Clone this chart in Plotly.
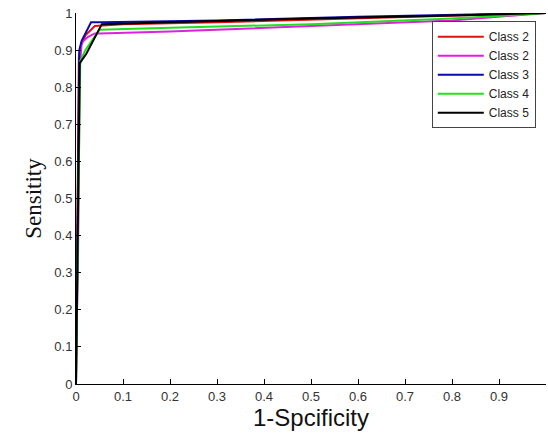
import plotly.graph_objects as go

names = ["Class 2", "Class 2", "Class 3", "Class 4", "Class 5"]
colors = ["#e01010", "#e020e0", "#0a0aa8", "#20e020", "#000000"]

red_x = [0, 0.003, 0.006, 0.01, 0.02, 0.04, 0.1, 0.3, 0.6, 1.0]
red_y = [0, 0.5, 0.88, 0.91, 0.94, 0.965, 0.97, 0.975, 0.985, 1.0]

mag_x = [0, 0.004, 0.008, 0.012, 0.025, 0.04, 0.05, 0.2, 0.5, 0.8, 1.0]
mag_y = [0.07, 0.3, 0.85, 0.92, 0.935, 0.945, 0.945, 0.95, 0.965, 0.98, 1.0]

blue_x = [0, 0.004, 0.007, 0.012, 0.032, 0.055, 0.3, 0.6, 1.0]
blue_y = [0, 0.5, 0.9, 0.925, 0.975, 0.975, 0.98, 0.99, 1.0]

green_x = [0, 0.005, 0.009, 0.02, 0.05, 0.2, 0.5, 0.8, 1.0]
green_y = [0, 0.5, 0.87, 0.9, 0.955, 0.96, 0.97, 0.985, 1.0]

black_x = [0, 0.005, 0.008, 0.022, 0.055, 0.2, 0.5, 0.8, 1.0]
black_y = [0, 0.6, 0.865, 0.89, 0.97, 0.975, 0.985, 0.993, 1.0]

xs = [red_x, mag_x, blue_x, green_x, black_x]
ys = [red_y, mag_y, blue_y, green_y, black_y]

x_ticks = [0, 0.1, 0.2, 0.3, 0.4, 0.5, 0.6, 0.7, 0.8, 0.9]
x_labels = ["0", "0.1", "0.2", "0.3", "0.4", "0.5", "0.6", "0.7", "0.8", "0.9"]
y_ticks = [0, 0.1, 0.2, 0.3, 0.4, 0.5, 0.6, 0.7, 0.8, 0.9, 1.0]
y_labels = ["0", "0.1", "0.2", "0.3", "0.4", "0.5", "0.6", "0.7", "0.8", "0.9", "1"]

fig = go.Figure()
for n, c, x, y in zip(names, colors, xs, ys):
    fig.add_trace(go.Scatter(x=x, y=y, mode="lines", name=n,
                             line=dict(color=c, width=2)))

fig.update_layout(
    width=548, height=434,
    margin=dict(l=76, r=2, t=13, b=50),
    paper_bgcolor="white", plot_bgcolor="white",
    font=dict(family="Liberation Sans, Arial", size=13, color="#333333"),
    legend=dict(x=0.757, y=0.978, xanchor="left", yanchor="top",
                bgcolor="white", bordercolor="#444444", borderwidth=1,
                font=dict(size=12, color="#222222"),
                tracegroupgap=0, itemwidth=46),
    xaxis=dict(range=[0, 1], tickvals=x_ticks, ticktext=x_labels,
               showgrid=False, zeroline=False, showline=True, linecolor="black",
               linewidth=1, ticks="inside", ticklen=5, tickcolor="black",
               automargin=False,
               title=dict(text="1-Spcificity", standoff=3,
                          font=dict(family="Liberation Sans, Arial", size=24, color="#111111"))),
    yaxis=dict(range=[0, 1], tickvals=y_ticks, ticktext=y_labels,
               showgrid=False, zeroline=False, showline=True, linecolor="black",
               linewidth=1, ticks="inside", ticklen=5, tickcolor="black",
               automargin=False,
               title=dict(text="Sensitity", standoff=6,
                          font=dict(family="Liberation Serif, Times New Roman", size=23, color="#111111"))),
    showlegend=True,
)

fig.write_html("out.html", config={"displayModeBar": False},
               post_script="document.body.style.margin='0px';document.body.style.overflow='hidden';")
